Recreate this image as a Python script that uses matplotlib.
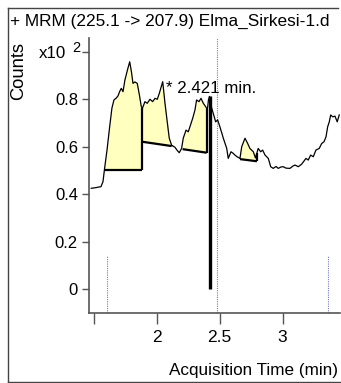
import numpy as np
import matplotlib
matplotlib.use("Agg")
import matplotlib.pyplot as plt
from matplotlib.lines import Line2D

plt.rcParams["font.family"] = ["Liberation Sans", "DejaVu Sans"]

# cromatograma MRM 225.1 -> 207.9 (tiempo en min, cuentas x10^2)
tiempo = [1.481, 1.518, 1.558, 1.574, 1.587, 1.606, 1.627, 1.645, 1.661, 1.679,
          1.693, 1.706, 1.719, 1.733, 1.748, 1.768, 1.786, 1.800, 1.812, 1.828,
          1.846, 1.863, 1.878, 1.887, 1.907, 1.925, 1.947, 1.968, 1.987, 2.005,
          2.021, 2.048, 2.066, 2.082, 2.100, 2.119, 2.145, 2.161, 2.179, 2.198,
          2.211, 2.233, 2.251, 2.264, 2.286, 2.304, 2.317, 2.336, 2.352, 2.370,
          2.389, 2.402, 2.411, 2.419, 2.437, 2.457, 2.468, 2.484, 2.502, 2.529,
          2.556, 2.568, 2.590, 2.608, 2.621, 2.641, 2.661, 2.675, 2.701, 2.722,
          2.740, 2.767, 2.784, 2.806, 2.825, 2.841, 2.860, 2.886, 2.905, 2.925,
          2.947, 2.965, 2.987, 3.005, 3.026, 3.058, 3.082, 3.098, 3.124, 3.151,
          3.185, 3.203, 3.222, 3.243, 3.264, 3.290, 3.310, 3.328, 3.344, 3.357,
          3.370, 3.381, 3.397, 3.415, 3.433, 3.449]
cuentas = [0.424, 0.427, 0.431, 0.452, 0.509, 0.585, 0.683, 0.762, 0.796, 0.804,
           0.813, 0.831, 0.845, 0.831, 0.880, 0.922, 0.957, 0.914, 0.866, 0.872,
           0.866, 0.817, 0.768, 0.761, 0.789, 0.782, 0.799, 0.789, 0.803, 0.799,
           0.824, 0.873, 0.782, 0.712, 0.635, 0.605, 0.597, 0.585, 0.574, 0.592,
           0.635, 0.669, 0.662, 0.683, 0.719, 0.754, 0.796, 0.789, 0.803, 0.782,
           0.768, 0.754, 0.796, 0.811, 0.761, 0.725, 0.704, 0.712, 0.683, 0.635,
           0.592, 0.550, 0.578, 0.571, 0.564, 0.556, 0.550, 0.599, 0.635, 0.613,
           0.592, 0.578, 0.552, 0.592, 0.578, 0.585, 0.564, 0.550, 0.515, 0.508,
           0.516, 0.508, 0.514, 0.515, 0.509, 0.508, 0.518, 0.522, 0.515, 0.526,
           0.550, 0.543, 0.564, 0.557, 0.585, 0.592, 0.613, 0.620, 0.641, 0.683,
           0.704, 0.733, 0.725, 0.728, 0.704, 0.733]

# picos integrados: inicio, fin y linea base en cada extremo
pico_t0 = [1.587, 1.887, 2.206, 2.661]
pico_t1 = [1.884, 2.119, 2.397, 2.796]
base_0 = [0.500, 0.620, 0.589, 0.547]
base_1 = [0.500, 0.602, 0.574, 0.538]

# pico marcado y lineas de referencia
t_marcado = 2.421
altura_marcado = 0.811
lineas_ref = [1.606, 2.478, 3.357]
tope_ref = [0.139, 1.057, 0.139]

W, H = 341, 383


def px(x, y):
    return x / W, 1 - y / H


fig = plt.figure(figsize=(W / 100, H / 100), dpi=100)
ax = fig.add_axes([89 / W, 1 - 313 / H, (340 - 89) / W, (313 - 38) / H])
ax.set_xlim(1.463, 3.455)
ax.set_ylim(-0.101, 1.057)

t = np.array(tiempo)
c = np.array(cuentas)

for t0, t1, b0, b1 in zip(pico_t0, pico_t1, base_0, base_1):
    dentro = (t > t0) & (t < t1)
    tt = np.concatenate([[t0], t[dentro], [t1]])
    cc = np.concatenate([[np.interp(t0, t, c)], c[dentro], [np.interp(t1, t, c)]])
    bb = np.interp(tt, [t0, t1], [b0, b1])
    ax.fill_between(tt, bb, cc, color="#FFFFC0", linewidth=0, zorder=1)
    ax.plot([t0, t1], [b0, b1], color="black", lw=1.6, zorder=3,
            solid_capstyle="butt")
    ax.plot([t1, t1], [b1, cc[-1]], color="black", lw=1.6, zorder=3,
            solid_capstyle="butt")

ax.plot(t, c, color="black", lw=0.9, zorder=4)

for xr, top in zip(lineas_ref, tope_ref):
    ax.plot([xr, xr], [-0.101, top], color="#7878d0", lw=0.8,
            linestyle=(0, (1, 1)), zorder=2)

ax.plot([t_marcado, t_marcado], [0, altura_marcado], color="black", lw=2.4,
        zorder=5, solid_capstyle="butt")
ax.text(2.074, 0.825, "* 2.421 min.", fontsize=12.2, ha="left", va="baseline",
        zorder=6)

# ejes
for lado in ["top", "right"]:
    ax.spines[lado].set_visible(False)
for lado in ["left", "bottom"]:
    ax.spines[lado].set_color("#555555")
    ax.spines[lado].set_linewidth(1.2)

ax.set_yticks([0, 0.2, 0.4, 0.6, 0.8, 1.0])
ax.set_yticklabels(["0", "0.2", "0.4", "0.6", "0.8", ""])
ax.set_xticks([1.5, 2, 2.5, 3])
ax.set_xticklabels(["", "2", "2.5", "3"])
ax.tick_params(axis="y", length=5, width=1, color="#555555", pad=3, labelsize=12)
ax.tick_params(axis="x", length=8, width=1, color="#555555", pad=4.5, labelsize=12.5)

# textos de la figura
fig.text(*px(10, 26), "+ MRM (225.1 -> 207.9) Elma_Sirkesi-1.d", fontsize=12.4,
         ha="left", va="baseline")
fig.text(*px(19, 71), "Counts", fontsize=13.2, rotation=90, ha="center",
         va="center")
fig.text(*px(39, 58), "x10", fontsize=12.2, ha="left", va="baseline")
fig.text(*px(72, 52), "2", fontsize=10.5, ha="left", va="baseline")
fig.text(*px(338, 375), "Acquisition Time (min)", fontsize=12.3, ha="right",
         va="baseline")

# marco exterior
marco = dict(color="#444444", lw=1.0, transform=fig.transFigure)
fig.add_artist(Line2D([7.5 / W, 7.5 / W], [1 - 7.5 / H, 1 - 381.5 / H], **marco))
fig.add_artist(Line2D([7.5 / W, 338 / W], [1 - 7.5 / H, 1 - 7.5 / H], **marco))
fig.add_artist(Line2D([7.5 / W, 340 / W], [1 - 381.5 / H, 1 - 381.5 / H], **marco))

fig.savefig("out.png", dpi=100)
